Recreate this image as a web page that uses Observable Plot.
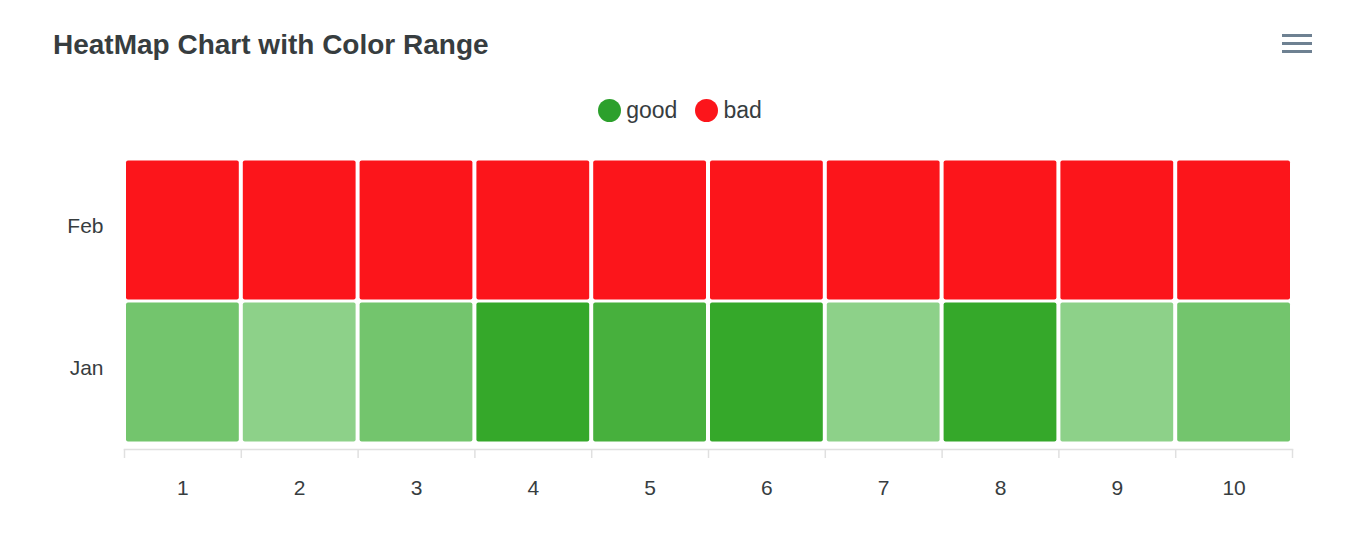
<!DOCTYPE html>
<html>
<head>
<meta charset="utf-8">
<script src="https://cdn.jsdelivr.net/npm/d3@7"></script>
<script src="https://cdn.jsdelivr.net/npm/@observablehq/plot@0.6"></script>
<style>
  html, body { margin: 0; padding: 0; background: #fff; }
  body { width: 1360px; height: 544px; position: relative; overflow: hidden; font-family: "Liberation Sans", Arial, Helvetica, sans-serif; }
  #header { position: relative; height: 140px; }
  #title { position: absolute; left: 53px; top: 31px; font-size: 28px; line-height: 28px; font-weight: bold; color: #373d3f; white-space: nowrap; }
  #menu { position: absolute; left: 1282px; top: 34px; width: 30px; }
  #menu div { height: 3px; background: #6e8192; margin-bottom: 5px; }
  #legend { position: absolute; top: 97px; left: 0; width: 1360px; display: flex; justify-content: center; align-items: center; font-size: 23px; color: #373d3f; }
  .item { display: flex; align-items: center; margin: 0 9px; }
  .dot { width: 23px; height: 23px; border-radius: 50%; margin-right: 5px; }
  #chart svg { display: block; }
</style>
</head>
<body>
<div id="header">
  <div id="title"></div>
  <div id="menu"><div></div><div></div><div></div></div>
  <div id="legend"></div>
</div>
<div id="chart"></div>
<script>
const title = "HeatMap Chart with Color Range";
const columns = [1, 2, 3, 4, 5, 6, 7, 8, 9, 10];
const rows = ["Feb", "Jan"];
const janValues = [16, 10, 16, 30, 26, 30, 10, 30, 10, 16];
const febValues = [45, 45, 45, 45, 45, 45, 45, 45, 45, 45];
const legendNames = ["good", "bad"];
const legendColors = ["#2ca02c", "#fc151b"];

document.getElementById("title").textContent = title;
const legend = document.getElementById("legend");
legendNames.forEach((n, i) => {
  const it = document.createElement("div");
  it.className = "item";
  const dot = document.createElement("div");
  dot.className = "dot";
  dot.style.background = legendColors[i];
  const t = document.createElement("span");
  t.textContent = n;
  it.appendChild(dot); it.appendChild(t);
  legend.appendChild(it);
});

const data = [];
columns.forEach((c, i) => {
  data.push({row: "Jan", col: c, value: janValues[i]});
  data.push({row: "Feb", col: c, value: febValues[i]});
});
const boundaries = [columns[0] - 0.5, ...columns.map(c => c + 0.5)];

const chart = Plot.plot({
  width: 1360,
  height: 404,
  marginLeft: 124,
  marginRight: 68,
  marginTop: 18,
  marginBottom: 101,
  style: {fontFamily: "'Liberation Sans', Arial, sans-serif", color: "#373d3f", background: "#fff"},
  x: {type: "linear", domain: [0.5, 10.5]},
  y: {type: "band", domain: rows, padding: 0},
  color: {type: "linear", domain: [10, 30], range: ["#8dd189", "#35a82a"]},
  marks: [
    Plot.barX(data.filter(d => d.row === "Jan"), {
      x1: d => d.col - 0.5, x2: d => d.col + 0.5, y: "row", fill: "value",
      insetLeft: 2, insetRight: 2, insetTop: 1.5, insetBottom: 1.5, rx: 2
    }),
    Plot.barX(data.filter(d => d.row === "Feb"), {
      x1: d => d.col - 0.5, x2: d => d.col + 0.5, y: "row", fill: legendColors[1],
      insetLeft: 2, insetRight: 2, insetTop: 1.5, insetBottom: 1.5, rx: 2
    }),
    Plot.frame({anchor: "bottom", stroke: "#e0e0e0", strokeWidth: 1.5, dy: 6}),
    Plot.axisX({ticks: boundaries, tickFormat: () => "", tickSize: 9, stroke: "#e0e0e0", strokeWidth: 1.5, dy: 6}),
    Plot.axisX({ticks: columns, tickSize: 0, tickPadding: 37, fontSize: 21, fill: "#373d3f", tickFormat: d => String(d), label: null}),
    Plot.axisY({tickSize: 0, tickPadding: 21, fontSize: 21, fill: "#373d3f", label: null, dy: -4})
  ]
});
document.getElementById("chart").appendChild(chart);
</script>
</body>
</html>
